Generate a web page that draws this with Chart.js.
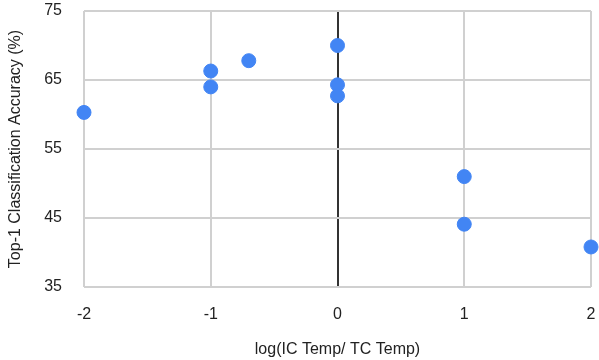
<!DOCTYPE html>
<html lang="en">
<head>
    <meta charset="UTF-8">
    <title>Top-1 Classification Accuracy</title>
    <script src="https://cdn.jsdelivr.net/npm/chart.js@4.4.0/dist/chart.umd.min.js"></script>
    <style>
        body {
            margin: 0;
            padding: 0;
            background: #ffffff;
        }
        .wrap {
            width: 599px;
            height: 360px;
            position: relative;
        }
    </style>
</head>
<body>
    <div class="wrap">
        <canvas id="accChart"></canvas>
    </div>

    <script>
        // log(IC Temp / TC Temp) vs accuracy
        var tempRatio = [-2, -1, -1, -0.7, 0, 0, 0, 1, 1, 2];
        var accuracy  = [60.3, 66.3, 64.0, 67.8, 70.0, 64.3, 62.7, 51.0, 44.1, 40.8];
        var xTicks = [-2, -1, 0, 1, 2];
        var yTicks = [35, 45, 55, 65, 75];

        var points = tempRatio.map(function(x, i) {
            return { x: x, y: accuracy[i] };
        });

        // drop the automatic label overflow padding so the plot area is fixed
        function noPad(axis) {
            axis.paddingTop = 0;
            axis.paddingBottom = 0;
            axis.paddingLeft = 0;
            axis.paddingRight = 0;
        }

        Chart.defaults.font.family = "'Liberation Sans', Arial, sans-serif";
        Chart.defaults.color = '#222';

        var ctx = document.getElementById('accChart').getContext('2d');
        var accChart = new Chart(ctx, {
            type: 'scatter',
            data: {
                datasets: [{
                    data: points,
                    backgroundColor: '#4285f4',
                    borderColor: '#4285f4',
                    pointRadius: 7,
                    pointHoverRadius: 7,
                    clip: false
                }]
            },
            options: {
                responsive: true,
                maintainAspectRatio: false,
                animation: false,
                layout: { padding: { top: 11, right: 5, left: 0, bottom: 0 } },
                plugins: {
                    legend: { display: false },
                    tooltip: { enabled: false }
                },
                scales: {
                    x: {
                        type: 'linear',
                        min: xTicks[0],
                        max: xTicks[xTicks.length - 1],
                        afterBuildTicks: function(axis) {
                            axis.ticks = xTicks.map(function(v) { return { value: v }; });
                        },
                        afterFit: function(axis) { axis.height = 73; noPad(axis); },
                        border: { display: false },
                        grid: {
                            drawTicks: false,
                            lineWidth: 2,
                            color: function(c) {
                                return c.tick && c.tick.value === 0 ? '#333333' : '#d0d0d0';
                            }
                        },
                        ticks: { padding: 18, font: { size: 16 } },
                        title: {
                            display: true,
                            text: 'log(IC Temp/ TC Temp)',
                            font: { size: 16 },
                            padding: { top: 4, bottom: 1 }
                        }
                    },
                    y: {
                        min: yTicks[0],
                        max: yTicks[yTicks.length - 1],
                        afterBuildTicks: function(axis) {
                            axis.ticks = yTicks.map(function(v) { return { value: v }; });
                        },
                        afterFit: function(axis) { axis.width = 84; noPad(axis); },
                        border: { display: false },
                        grid: {
                            drawTicks: false,
                            lineWidth: 2,
                            color: '#d0d0d0'
                        },
                        ticks: { padding: 22, font: { size: 16 } },
                        title: {
                            display: true,
                            text: 'Top-1 Classification Accuracy (%)',
                            font: { size: 16 },
                            padding: { top: 6, bottom: 0 }
                        }
                    }
                }
            }
        });
    </script>
</body>
</html>
